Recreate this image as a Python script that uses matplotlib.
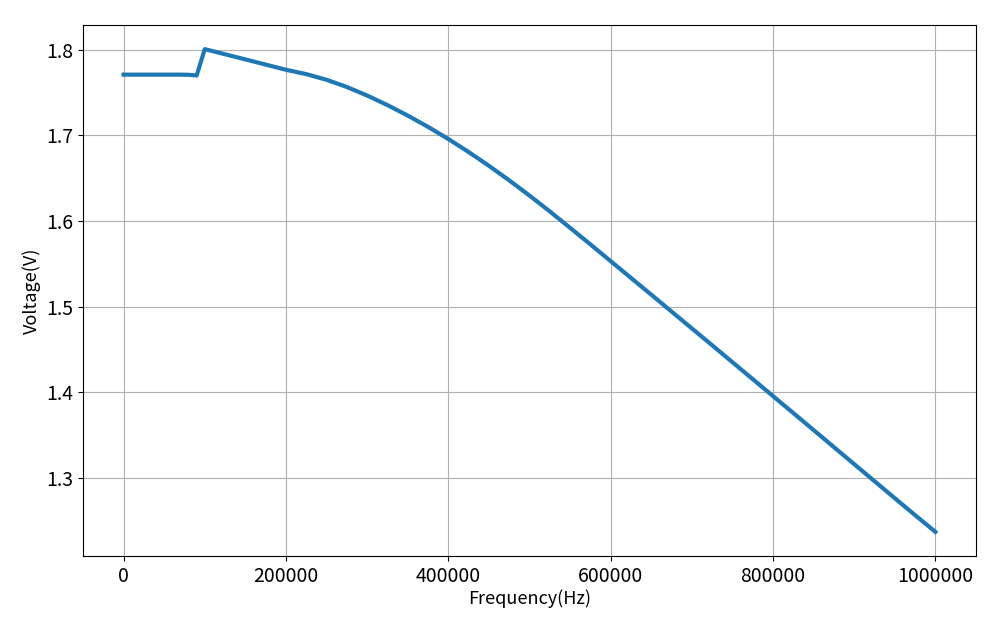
import matplotlib
matplotlib.use("Agg")
import matplotlib.pyplot as plt

plt.rcParams['font.family'] = ['Noto Sans CJK SC', 'DejaVu Sans']
plt.rcParams['axes.unicode_minus'] = False

frequency = [0, 10000, 20000, 30000, 40000, 50000, 60000, 70000, 80000, 90000,
             100000, 150000, 200000, 225000, 250000, 275000, 300000, 325000,
             350000, 375000, 400000, 425000, 450000, 475000, 500000, 525000,
             550000, 575000, 600000, 625000, 650000, 675000, 700000, 725000,
             750000, 775000, 800000, 825000, 850000, 875000, 900000, 925000,
             950000, 975000, 1000000]
voltage = [1.771, 1.771, 1.771, 1.771, 1.771, 1.771, 1.771, 1.771, 1.7708, 1.7700,
           1.8008, 1.7888, 1.7767, 1.7716, 1.7650, 1.7566, 1.7466, 1.7354,
           1.7232, 1.7100, 1.6958, 1.6806, 1.6645, 1.6475, 1.6297, 1.6112,
           1.5920, 1.5727, 1.5531, 1.5335, 1.5139, 1.4942, 1.4745, 1.4548,
           1.4350, 1.4152, 1.3954, 1.3756, 1.3557, 1.3358, 1.3159, 1.2960,
           1.2761, 1.2563, 1.2368]

fig = plt.figure(figsize=(10, 6.25), dpi=100)
ax = fig.add_axes([0.083, 0.1104, 0.893, 0.8496])
ax.plot(frequency, voltage, color='#1f77b4', linewidth=3)
ax.grid(True, color='#b0b0b0', linewidth=0.8)
ax.ticklabel_format(axis='x', style='plain', useOffset=False)
ax.tick_params(labelsize=14)
ax.set_xlabel('Frequency(Hz)', fontsize=13, labelpad=2)
ax.set_ylabel('Voltage(V)', fontsize=13)
fig.savefig('out.png', dpi=100)
